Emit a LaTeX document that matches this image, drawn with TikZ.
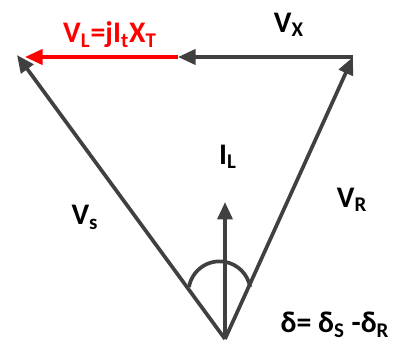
\documentclass[tikz,border=0pt]{standalone}
\usepackage{fontspec}
\setmainfont{Carlito}
\usetikzlibrary{arrows.meta,positioning}
\definecolor{vgray}{HTML}{404040}
\begin{document}
\begin{tikzpicture}[
  vec/.style={line width=2.1pt, draw=vgray, -{Triangle[length=3.5mm,width=3mm]}},
  redvec/.style={line width=2.1pt, draw=red, -{Triangle[length=3.5mm,width=3mm]}},
  plain/.style={line width=2.1pt, draw=vgray},
  lbl/.style={font=\fontsize{17}{19}\selectfont\bfseries, inner sep=1pt},
]
\useasboundingbox (0,0) rectangle (8,6.9);
% phasor end points
\coordinate (O) at (4.5,0.12);
\coordinate (S) at (0.34,5.8);
\coordinate (R) at (7.06,5.76);
\coordinate (M) at (3.56,5.76);
\coordinate (L) at (0.5,5.76);
\coordinate (I) at (4.5,2.86);
\coordinate (arcL) at (3.78,1.16);
% phasors
\draw[vec] (O) -- (S);
\draw[vec] (O) -- (R);
\draw[vec] (R) -- (M);
\draw[redvec] (M) -- (L);
\draw[vec] (O) -- (I);
\draw[plain] (arcL) arc[start angle=170, end angle=10, radius=0.62];
% labels
\node[lbl, text=red] (vl) at (2.2,6.2) {V\textsubscript{L}=jI\textsubscript{t}X\textsubscript{T}};
\node[lbl] (vx) at (5.78,6.4) {V\textsubscript{X}};
\node[lbl] (il) at (4.56,3.76) {I\textsubscript{L}};
\node[lbl] (vr) at (7.04,2.9) {V\textsubscript{R}};
\node[lbl] (vs) at (1.7,2.55) {V\textsubscript{s}};
\node[lbl] (dl) at (6.7,0.4) {δ= δ\textsubscript{S} -δ\textsubscript{R}};
\end{tikzpicture}
\end{document}
